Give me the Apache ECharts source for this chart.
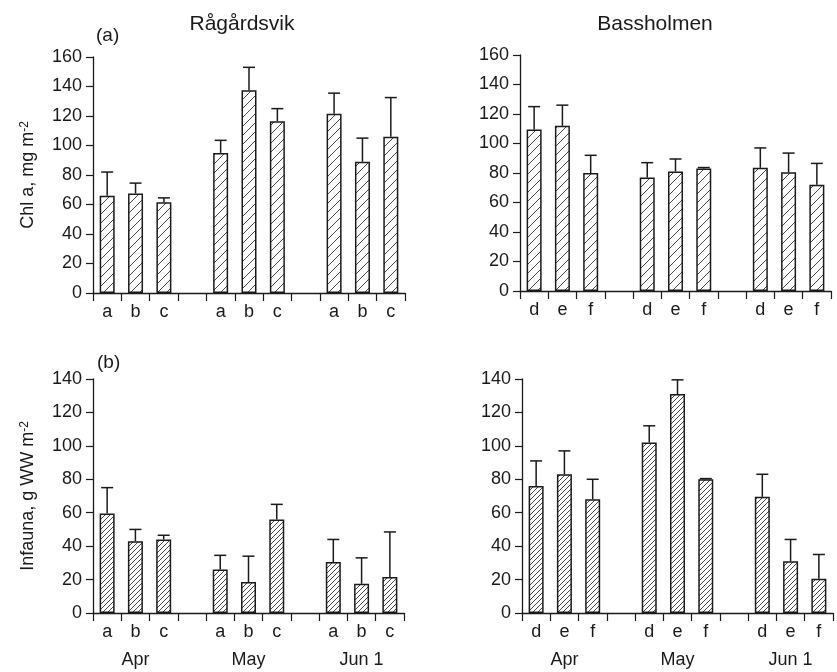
<!DOCTYPE html>
<html>
<head>
<meta charset="utf-8">
<script src="https://cdn.jsdelivr.net/npm/echarts@6/dist/echarts.min.js"></script>
<style>
  html, body { margin: 0; padding: 0; background: #fff; }
  #chart { width: 837px; height: 672px; }
</style>
</head>
<body>
<div id="chart"></div>
<script>
// slot labels, '' = empty gap between sampling dates
const rSlots = ['a', 'b', 'c', '', 'a', 'b', 'c', '', 'a', 'b', 'c']
const bSlots = ['d', 'e', 'f', '', 'd', 'e', 'f', '', 'd', 'e', 'f']
const monthSlots = ['', 'Apr', '', '', '', 'May', '', '', '', 'Jun 1', '']

// (a) Chl a, mg m-2  (mean and SD)
const chlR = [66, 67.5, 61.5, null, 95, 137.5, 116.5, null, 121.5, 89, 106]
const chlRSd = [16, 7, 3, null, 8.5, 15.5, 8.5, null, 14, 16, 26.5]
const chlB = [109.5, 112, 80, null, 77, 81, 83, null, 83.5, 80.5, 72]
const chlBSd = [15.5, 14, 12, null, 10, 8.5, 0.7, null, 13.5, 13, 14.5]

// (b) Infauna, g WW m-2
const infR = [59.5, 43, 44, null, 26, 18.5, 56, null, 30.5, 17.5, 21.5]
const infRSd = [15.5, 7, 2.5, null, 8.5, 15.5, 9, null, 13.5, 15.5, 27]
const infB = [76, 83, 68, null, 102, 131, 80, null, 69.5, 31, 20.5]
const infBSd = [15, 14, 12, null, 10, 8.5, 0.4, null, 13.5, 13, 14.5]

const FONT = 'Liberation Sans, Arial, Helvetica, sans-serif'
const INK = '#1a1a1a'

// diagonal hatch fill
function hatch(size) {
  const c = document.createElement('canvas')
  c.width = size
  c.height = size
  const ctx = c.getContext('2d')
  ctx.strokeStyle = '#333'
  ctx.lineWidth = 0.9
  ctx.beginPath()
  ctx.moveTo(0, size)
  ctx.lineTo(size, 0)
  ctx.moveTo(-size / 2, size / 2)
  ctx.lineTo(size / 2, -size / 2)
  ctx.moveTo(size / 2, size * 1.5)
  ctx.lineTo(size * 1.5, size / 2)
  ctx.stroke()
  return c
}
const hatchWide = hatch(9)
const hatchTight = hatch(5)

function xAxisLetters(idx, slots) {
  return {
    type: 'category',
    gridIndex: idx,
    position: 'bottom',
    data: slots,
    axisLine: { show: true, lineStyle: { color: INK, width: 1.3 } },
    axisTick: { show: true, length: 8, lineStyle: { color: INK, width: 1.2 }, interval: 0 },
    axisLabel: { interval: 0, color: INK, fontSize: 18, fontFamily: FONT, margin: 10 }
  }
}

// second bottom axis carrying the sampling dates
function xAxisMonths(idx) {
  return {
    type: 'category',
    gridIndex: idx,
    position: 'bottom',
    data: monthSlots,
    axisLine: { show: false },
    axisTick: { show: false },
    axisLabel: { interval: 0, color: INK, fontSize: 18, fontFamily: FONT, margin: 38 }
  }
}

function yAxis(idx, max, name) {
  return {
    type: 'value',
    gridIndex: idx,
    min: 0,
    max: max,
    interval: 20,
    name: name,
    nameLocation: 'middle',
    nameRotate: 90,
    nameGap: 56,
    nameTextStyle: {
      color: INK,
      fontSize: 18,
      fontFamily: FONT,
      rich: {
        s: { fontSize: 12, fontFamily: FONT, color: INK, verticalAlign: 'top', lineHeight: 12 }
      }
    },
    splitLine: { show: false },
    axisLine: { show: true, lineStyle: { color: INK, width: 1.3 } },
    axisTick: { show: true, length: 7, lineStyle: { color: INK, width: 1.2 } },
    axisLabel: { color: INK, fontSize: 18, fontFamily: FONT, margin: 11 }
  }
}

function bars(axis, values, pattern) {
  return {
    type: 'bar',
    xAxisIndex: axis,
    yAxisIndex: axis,
    data: values,
    barWidth: 15,
    itemStyle: {
      color: { image: pattern, repeat: 'repeat' },
      borderColor: INK,
      borderWidth: 1.5
    },
    z: 2
  }
}

function errors(axis, values, sd) {
  const data = []
  values.forEach((v, i) => {
    if (v != null) data.push([i, v, sd[i]])
  })
  return {
    type: 'custom',
    xAxisIndex: axis,
    yAxisIndex: axis,
    data: data,
    z: 3,
    renderItem(params, api) {
      const base = api.coord([api.value(0), api.value(1)])
      const top = api.coord([api.value(0), api.value(1) + api.value(2)])
      const style = { stroke: INK, lineWidth: 1.5 }
      return {
        type: 'group',
        children: [
          { type: 'line', shape: { x1: base[0], y1: base[1], x2: top[0], y2: top[1] }, style },
          { type: 'line', shape: { x1: top[0] - 6, y1: top[1], x2: top[0] + 6, y2: top[1] }, style }
        ]
      }
    }
  }
}

const chart = echarts.init(document.getElementById('chart'))
const titleStyle = { color: INK, fontSize: 21, fontWeight: 'normal', fontFamily: FONT }
const tagStyle = { color: INK, fontSize: 19, fontWeight: 'normal', fontFamily: FONT }

chart.setOption({
  backgroundColor: '#fff',
  animation: false,
  title: [
    { text: 'Rågårdsvik', left: 237, top: 9, textAlign: 'center', textStyle: titleStyle },
    { text: 'Bassholmen', left: 650, top: 9, textAlign: 'center', textStyle: titleStyle },
    { text: '(a)', left: 96, top: 26, textStyle: tagStyle, padding: 0 },
    { text: '(b)', left: 97, top: 353, textStyle: tagStyle, padding: 0 }
  ],
  grid: [
    { left: 93, right: 432, top: 57, bottom: 379 },
    { left: 520, right: 6, top: 55, bottom: 381 },
    { left: 93, right: 433, top: 379, bottom: 59 },
    { left: 522, right: 4, top: 379, bottom: 59 }
  ],
  xAxis: [
    xAxisLetters(0, rSlots),
    xAxisLetters(1, bSlots),
    xAxisLetters(2, rSlots),
    xAxisLetters(3, bSlots),
    xAxisMonths(2),
    xAxisMonths(3)
  ],
  yAxis: [
    yAxis(0, 160, 'Chl a, mg m{s|-2}'),
    yAxis(1, 160, ''),
    yAxis(2, 140, 'Infauna, g WW m{s|-2}'),
    yAxis(3, 140, '')
  ],
  series: [
    bars(0, chlR, hatchWide),
    errors(0, chlR, chlRSd),
    bars(1, chlB, hatchWide),
    errors(1, chlB, chlBSd),
    bars(2, infR, hatchTight),
    errors(2, infR, infRSd),
    bars(3, infB, hatchTight),
    errors(3, infB, infBSd)
  ]
})
</script>
</body>
</html>
